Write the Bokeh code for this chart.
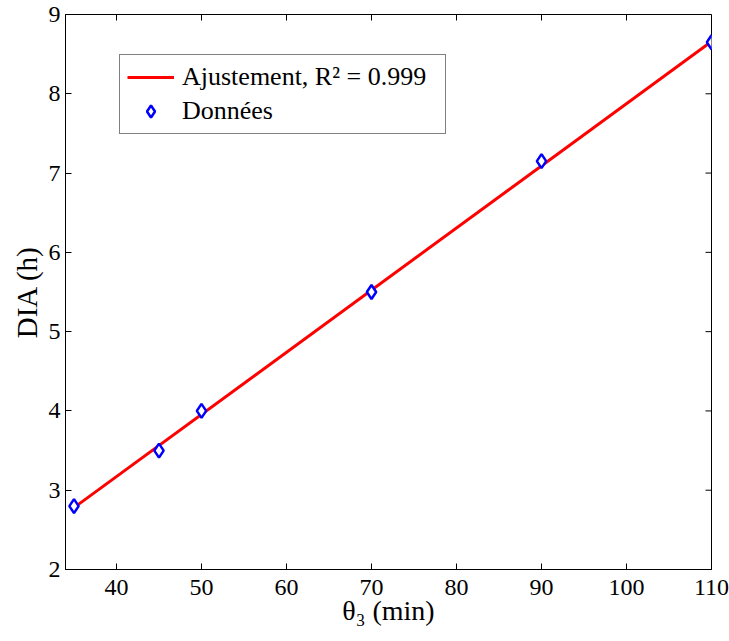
import math
from bokeh.plotting import figure
from bokeh.models import Range1d, FixedTicker, Legend, LegendItem
from bokeh.embed import file_html
from bokeh.resources import INLINE

# Data
theta3_min = [35, 45, 50, 70, 90, 110]
dia_h = [2.8, 3.5, 4.0, 5.5, 7.15, 8.65]
fit_x = [35, 110]
fit_y = [2.78, 8.66]
x_ticks = [40, 50, 60, 70, 80, 90, 100, 110]
y_ticks = [2, 3, 4, 5, 6, 7, 8, 9]
fit_label = "Ajustement, R² = 0.999"
data_label = "Données"

FONT = "Liberation Serif"
X_MIN, X_MAX = 34, 110
Y_MIN, Y_MAX = 2, 9

p = figure(width=729, height=641, output_backend="svg", toolbar_location=None,
           x_range=Range1d(X_MIN, X_MAX), y_range=Range1d(Y_MIN, Y_MAX),
           min_border_left=65, min_border_right=18, min_border_top=14, min_border_bottom=72)
p.background_fill_color = "white"
p.border_fill_color = "white"
p.grid.visible = False
p.outline_line_color = "black"
p.outline_line_width = 1

r_fit = p.line(fit_x, fit_y, line_color="#ff0000", line_width=3)
r_pts = p.scatter(theta3_min, dia_h, marker="diamond", size=14, line_color="#0000ff",
                  line_width=2.5, fill_color="white")

# inward ticks on the top and right sides of the box
p.ray(x=x_ticks, y=[Y_MAX] * len(x_ticks), length=6, length_units="screen",
      angle=-math.pi / 2, line_color="black", line_width=1)
p.ray(x=[X_MAX] * len(y_ticks), y=y_ticks, length=6, length_units="screen",
      angle=math.pi, line_color="black", line_width=1)

def style(ax, ticks):
    ax.ticker = FixedTicker(ticks=ticks)
    ax.axis_line_color = "black"
    ax.major_tick_line_color = "black"
    ax.major_tick_in = 6
    ax.major_tick_out = 0
    ax.minor_tick_line_color = None
    ax.major_label_text_font = FONT
    ax.major_label_text_color = "black"
    ax.major_label_text_font_size = "24px"
    ax.axis_label_text_font = FONT
    ax.axis_label_text_font_style = "normal"
    ax.axis_label_text_color = "black"

xa = p.xaxis[0]
ya = p.yaxis[0]
style(xa, x_ticks)
style(ya, y_ticks)
xa.axis_label = "θ₃ (min)"
ya.axis_label = "DIA (h)"
xa.axis_label_text_font_size = "28px"
ya.axis_label_text_font_size = "29px"
xa.major_label_standoff = 10
xa.axis_label_standoff = -3
ya.major_label_standoff = 5
ya.axis_label_standoff = 3

legend = Legend(items=[LegendItem(label=fit_label, renderers=[r_fit]),
                       LegendItem(label=data_label, renderers=[r_pts])],
                location=(54, 435))
legend.label_text_font = FONT
legend.label_text_font_size = "26px"
legend.label_text_color = "black"
legend.border_line_color = "black"
legend.border_line_width = 1
legend.background_fill_color = "white"
legend.background_fill_alpha = 1
legend.glyph_width = 47
legend.glyph_height = 30
legend.label_height = 30
legend.label_width = 256
legend.label_standoff = 8
legend.spacing = 4
legend.padding = 7
legend.margin = 0
p.add_layout(legend, "center")

open("out.html", "w").write(file_html(p, INLINE))
